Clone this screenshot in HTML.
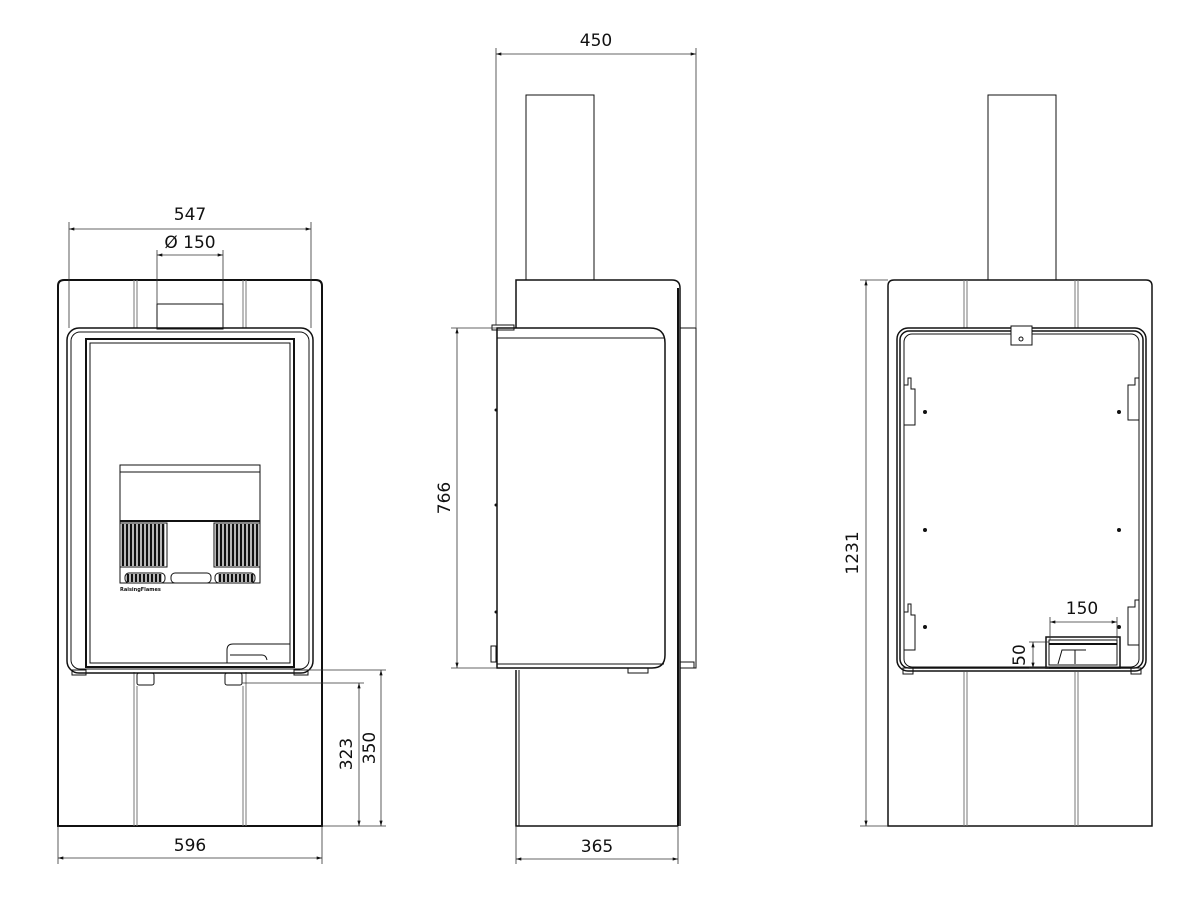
<!DOCTYPE html>
<html><head><meta charset="utf-8"><style>html,body{margin:0;padding:0;background:#fff}svg{display:block}</style></head><body>
<svg width="1200" height="914" viewBox="0 0 1200 914" xmlns="http://www.w3.org/2000/svg" font-family="'DejaVu Sans','Liberation Sans',sans-serif" font-size="17" fill="none" stroke="#111">
<defs>
<marker id="a" viewBox="0 0 10 6" refX="10" refY="3" markerWidth="8" markerHeight="4" orient="auto-start-reverse"><path d="M0,0L10,3L0,6z" fill="#111" stroke="none"/></marker>
</defs>
<!-- FRONT VIEW -->
<g stroke-width="1">
<path d="M58,826V286q0-6 6-6H316q6,0 6,6V826Z" stroke-width="2"/>
<line x1="58" y1="826" x2="322" y2="826"/>
<line x1="134" y1="280" x2="134" y2="328" stroke="#777"/><line x1="137" y1="280" x2="137" y2="328" stroke="#777"/>
<line x1="243" y1="280" x2="243" y2="328" stroke="#777"/><line x1="246" y1="280" x2="246" y2="328" stroke="#777"/>
<line x1="134" y1="672" x2="134" y2="826" stroke="#777"/><line x1="137" y1="686" x2="137" y2="826" stroke="#777"/>
<line x1="243" y1="686" x2="243" y2="826" stroke="#777"/><line x1="246" y1="672" x2="246" y2="826" stroke="#777"/>
<rect x="157" y="304" width="66" height="25"/>
<rect x="67" y="328" width="246" height="345" rx="12" stroke-width="1.5"/>
<rect x="71" y="332" width="238" height="337" rx="9"/>
<rect x="86" y="339" width="208" height="328" stroke-width="2"/>
<rect x="90" y="343" width="200" height="320"/>
<rect x="120" y="465" width="140" height="118"/>
<line x1="120" y1="472" x2="260" y2="472"/>
<line x1="120" y1="521" x2="260" y2="521" stroke-width="2"/>
<rect x="120" y="523" width="47" height="44" fill="#fff"/>
<rect x="214" y="523" width="46" height="44"/>
<g stroke-width="2.6">
<path d="M123,524V566M127,524V566M131,524V566M135,524V566M139,524V566M143,524V566M147,524V566M151,524V566M155,524V566M159,524V566M163,524V566"/>
<path d="M217,524V566M221,524V566M225,524V566M229,524V566M233,524V566M237,524V566M241,524V566M245,524V566M249,524V566M253,524V566M257,524V566"/>
<path d="M128,574V582M132,574V582M136,574V582M140,574V582M144,574V582M148,574V582M152,574V582M156,574V582M160,574V582"/>
<path d="M220,574V582M224,574V582M228,574V582M232,574V582M236,574V582M240,574V582M244,574V582M248,574V582M252,574V582"/>
</g>
<rect x="125" y="573" width="40" height="10" rx="4"/>
<rect x="171" y="573" width="40" height="10" rx="4"/>
<rect x="215" y="573" width="40" height="10" rx="4"/>
<text x="120" y="591" font-size="5" fill="#111" stroke="none" font-weight="bold">RaisingFlames</text>
<path d="M227,663V650q0-6 6-6H290" /><path d="M230,655H262q4,0 5,5"/>
<rect x="72" y="670" width="14" height="5"/><rect x="294" y="670" width="14" height="5"/>
<rect x="137" y="673" width="17" height="12" rx="2"/><rect x="225" y="673" width="17" height="12" rx="2"/>
</g>
<!-- front dimensions -->
<g stroke-width="0.8" stroke="#333">
<line x1="69" y1="229" x2="311" y2="229" marker-start="url(#a)" marker-end="url(#a)"/>
<line x1="69" y1="222" x2="69" y2="328"/><line x1="311" y1="222" x2="311" y2="328"/>
<line x1="157" y1="255" x2="223" y2="255" marker-start="url(#a)" marker-end="url(#a)"/>
<line x1="157" y1="250" x2="157" y2="304"/><line x1="223" y1="250" x2="223" y2="304"/>
<line x1="58" y1="858" x2="322" y2="858" marker-start="url(#a)" marker-end="url(#a)"/>
<line x1="58" y1="826" x2="58" y2="864"/><line x1="322" y1="826" x2="322" y2="864"/>
<line x1="359" y1="683" x2="359" y2="826" marker-start="url(#a)" marker-end="url(#a)"/>
<line x1="381" y1="670" x2="381" y2="826" marker-start="url(#a)" marker-end="url(#a)"/>
<line x1="242" y1="683" x2="364" y2="683"/><line x1="300" y1="670" x2="386" y2="670"/>
<line x1="322" y1="826" x2="386" y2="826"/>
</g>
<g fill="#111" stroke="none">
<text x="190" y="220" text-anchor="middle">547</text>
<text x="190" y="248" text-anchor="middle">Ø 150</text>
<text x="190" y="851" text-anchor="middle">596</text>
<text transform="translate(352,754) rotate(-90)" text-anchor="middle">323</text>
<text transform="translate(375,748) rotate(-90)" text-anchor="middle">350</text>
</g>
<!-- SIDE VIEW -->
<g stroke-width="1">
<rect x="526" y="95" width="68" height="185"/>
<path d="M516,328V280H672q8,0 8,8V826" stroke-width="1.5"/>
<line x1="678" y1="288" x2="678" y2="826" stroke-width="2"/>
<path d="M497,328H650q15,0 15,15V655q0,13-13,13H497Z" stroke-width="1.5"/>
<line x1="497" y1="338" x2="665" y2="338"/>
<line x1="497" y1="664" x2="664" y2="664"/>
<path d="M492,325H514V330H492Z"/>
<rect x="491" y="646" width="5" height="16"/>
<path d="M680,328H696V668H680"/>
<rect x="680" y="662" width="14" height="6"/>
<rect x="628" y="668" width="20" height="5"/>
<path d="M516,670V826H678" stroke-width="1.5"/><line x1="519" y1="670" x2="519" y2="826"/>
<g fill="#111" stroke="none"><circle cx="496" cy="410" r="1.5"/><circle cx="496" cy="505" r="1.5"/><circle cx="496" cy="612" r="1.5"/></g>
</g>
<g stroke-width="0.8" stroke="#333">
<line x1="496" y1="54" x2="696" y2="54" marker-start="url(#a)" marker-end="url(#a)"/>
<line x1="496" y1="48" x2="496" y2="325"/><line x1="696" y1="48" x2="696" y2="328"/>
<line x1="457" y1="328" x2="457" y2="668" marker-start="url(#a)" marker-end="url(#a)"/>
<line x1="451" y1="328" x2="497" y2="328"/><line x1="451" y1="668" x2="497" y2="668"/>
<line x1="516" y1="859" x2="678" y2="859" marker-start="url(#a)" marker-end="url(#a)"/>
<line x1="516" y1="826" x2="516" y2="864"/><line x1="678" y1="826" x2="678" y2="864"/>
</g>
<g fill="#111" stroke="none">
<text x="596" y="54" text-anchor="middle" dy="-8">450</text>
<text transform="translate(450,498) rotate(-90)" text-anchor="middle">766</text>
<text x="597" y="852" text-anchor="middle">365</text>
</g>
<!-- REAR VIEW -->
<g stroke-width="1">
<rect x="988" y="95" width="68" height="185"/>
<path d="M888,826V286q0-6 6-6H1146q6,0 6,6V826Z" stroke-width="1.5"/>
<line x1="964" y1="280" x2="964" y2="328" stroke="#777"/><line x1="967" y1="280" x2="967" y2="328" stroke="#777"/>
<line x1="1075" y1="280" x2="1075" y2="328" stroke="#777"/><line x1="1078" y1="280" x2="1078" y2="328" stroke="#777"/>
<line x1="964" y1="672" x2="964" y2="826" stroke="#777"/><line x1="967" y1="672" x2="967" y2="826" stroke="#777"/>
<line x1="1075" y1="672" x2="1075" y2="826" stroke="#777"/><line x1="1078" y1="672" x2="1078" y2="826" stroke="#777"/>
<rect x="897" y="328" width="249" height="343" rx="11" stroke-width="1.5"/>
<rect x="900" y="331" width="243" height="337" rx="9" stroke-width="1.5"/>
<rect x="904" y="334" width="235" height="333" rx="8"/>
<path d="M1011,345V326H1032V345Z" fill="#fff"/><circle cx="1021" cy="339" r="2"/>
<path d="M904,385H908V378H911V389H915V425H904" /><path d="M904,612H908V604H911V615H915V650H904"/>
<path d="M1139,378H1135V385H1128V420H1139"/><path d="M1139,600H1135V607H1128V645H1139"/>
<rect x="903" y="668" width="10" height="6"/><rect x="1131" y="668" width="10" height="6"/>
<rect x="1046" y="637" width="74" height="31" stroke-width="1.5"/>
<rect x="1049" y="640" width="68" height="25"/>
<line x1="1049" y1="644" x2="1117" y2="644" stroke-width="2"/>
<path d="M1058,664L1062,650H1086M1075,650V664"/>
<g fill="#111" stroke="none"><circle cx="925" cy="412" r="2"/><circle cx="1119" cy="412" r="2"/><circle cx="925" cy="530" r="2"/><circle cx="1119" cy="530" r="2"/><circle cx="925" cy="627" r="2"/><circle cx="1119" cy="627" r="2"/></g>
</g>
<g stroke-width="0.8" stroke="#333">
<line x1="866" y1="280" x2="866" y2="826" marker-start="url(#a)" marker-end="url(#a)"/>
<line x1="860" y1="280" x2="888" y2="280"/><line x1="860" y1="826" x2="888" y2="826"/>
<line x1="1050" y1="622" x2="1117" y2="622" marker-start="url(#a)" marker-end="url(#a)"/>
<line x1="1050" y1="617" x2="1050" y2="640"/><line x1="1117" y1="617" x2="1117" y2="640"/>
<line x1="1033" y1="642" x2="1033" y2="668" marker-start="url(#a)" marker-end="url(#a)"/>
<line x1="1029" y1="642" x2="1049" y2="642"/><line x1="1029" y1="668" x2="1049" y2="668"/>
</g>
<g fill="#111" stroke="none">
<text transform="translate(858,553) rotate(-90)" text-anchor="middle">1231</text>
<text x="1082" y="614" text-anchor="middle">150</text>
<text transform="translate(1025,655) rotate(-90)" text-anchor="middle">50</text>
</g>
</svg>
</body></html>
